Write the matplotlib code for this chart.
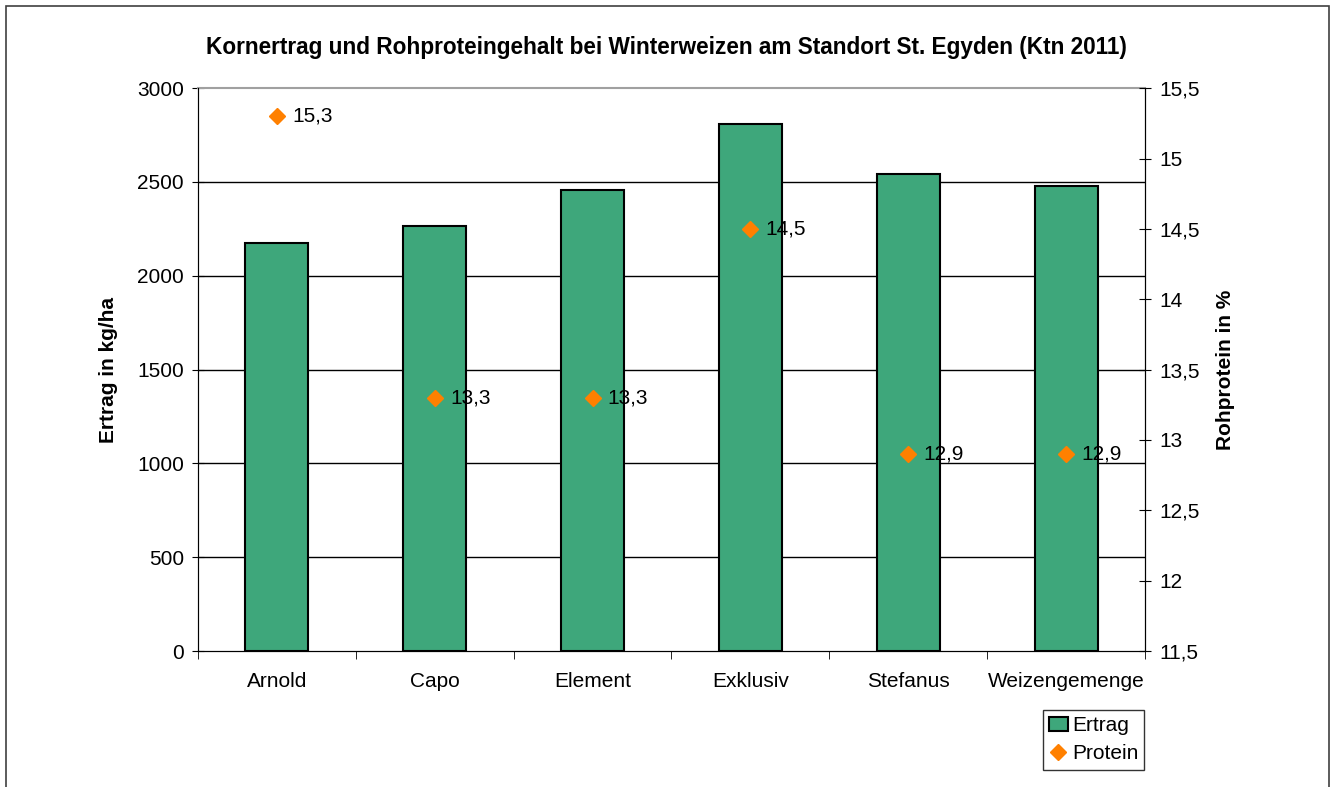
import matplotlib.pyplot as plt
from matplotlib.patches import Rectangle

# data
sorten = ["Arnold", "Capo", "Element", "Exklusiv", "Stefanus", "Weizengemenge"]
ertrag = [2175, 2265, 2455, 2808, 2543, 2481]
protein = [15.3, 13.3, 13.3, 14.5, 12.9, 12.9]
protein_labels = ["15,3", "13,3", "13,3", "14,5", "12,9", "12,9"]
y1_ticks = [0, 500, 1000, 1500, 2000, 2500, 3000]
y2_ticks = [11.5, 12, 12.5, 13, 13.5, 14, 14.5, 15, 15.5]
y2_labels = ["11,5", "12", "12,5", "13", "13,5", "14", "14,5", "15", "15,5"]

plt.rcParams['font.family'] = ['Liberation Sans', 'DejaVu Sans']
fs = 15
fig = plt.figure(figsize=(13.33, 7.87), dpi=100)
fig.patches.append(Rectangle((0.0045, -0.01), 0.9925, 1.002, transform=fig.transFigure,
                             fill=False, edgecolor='#404040', linewidth=1.2))

ax = fig.add_axes([0.1485, 0.1728, 0.7105, 0.7152])
x = list(range(len(sorten)))
ax.bar(x, ertrag, width=0.4, color='#3ea77b', edgecolor='black', linewidth=1.5, zorder=3, label='Ertrag')
ax.set_xlim(-0.5, len(sorten) - 0.5)
ax.set_ylim(0, 3000)
ax.set_yticks(y1_ticks)
ax.set_yticklabels([str(v) for v in y1_ticks], fontsize=fs)
ax.set_xticks(x)
ax.set_xticklabels(sorten, fontsize=fs)
ax.tick_params(axis='x', length=0, pad=15)
ax.set_xticks([i - 0.5 for i in range(len(sorten) + 1)], minor=True)
ax.tick_params(axis='x', which='minor', length=6, direction='out')
ax.tick_params(axis='y', length=8, direction='inout', pad=6)
for v in y1_ticks[1:-1]:
    ax.axhline(v, color='black', linewidth=1, zorder=1)
ax.spines['top'].set_color('#a0a0a0')
ax.spines['top'].set_linewidth(1.5)
ax.spines['left'].set_color('#404040')
ax.set_ylabel("Ertrag in kg/ha", fontsize=fs, fontweight='bold', labelpad=14)

ax2 = ax.twinx()
ax2.plot(x, protein, linestyle='none', marker='D', markersize=8.5, color='#ff8000', zorder=4, label='Protein')
for xi, p, lab in zip(x, protein, protein_labels):
    ax2.annotate(lab, (xi, p), xytext=(11, 0), textcoords='offset points', va='center', ha='left', fontsize=fs)
ax2.set_ylim(11.5, 15.5)
ax2.set_yticks(y2_ticks)
ax2.set_yticklabels(y2_labels, fontsize=fs)
ax2.tick_params(axis='y', length=8, direction='inout', pad=6)
ax2.spines['top'].set_visible(False)
ax2.set_ylabel("Rohprotein in %", fontsize=fs, fontweight='bold', labelpad=12)

fig.text(0.5, 0.94, "Kornertrag und Rohproteingehalt bei Winterweizen am Standort St. Egyden (Ktn 2011)",
         ha='center', va='center', fontsize=16.3, fontweight='bold')

h1, l1 = ax.get_legend_handles_labels()
h2, l2 = ax2.get_legend_handles_labels()
leg = fig.legend(h1 + h2, l1 + l2, loc='upper right', bbox_to_anchor=(0.8585, 0.098), fontsize=fs,
                 frameon=True, fancybox=False, edgecolor='black', handlelength=0.9, handletextpad=0.2,
                 borderpad=0.3, labelspacing=0.45, borderaxespad=0)
leg.get_frame().set_linewidth(1)

fig.savefig("out.png", dpi=100)
